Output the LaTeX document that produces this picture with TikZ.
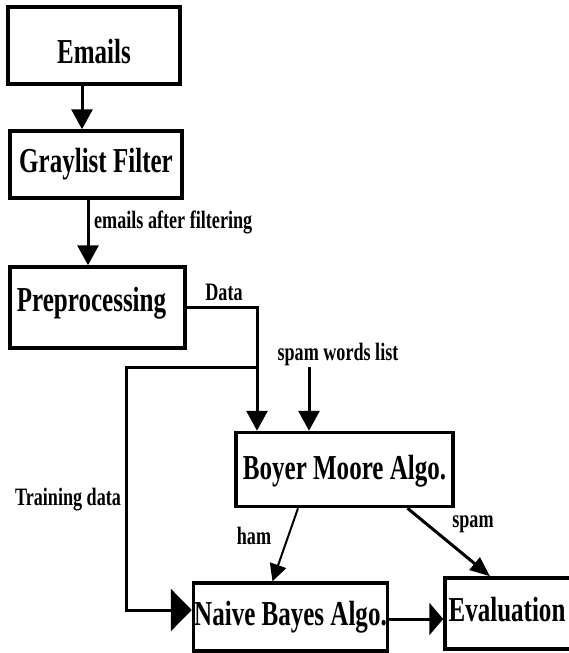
\documentclass[tikz,border=0pt]{standalone}
\usepackage{fontspec}
\setmainfont{Liberation Serif}
\newfontfamily\boxfont{Liberation Serif}[FakeStretch=0.715]
\newfontfamily\lblfont{Liberation Serif}[FakeStretch=0.725]
\usetikzlibrary{arrows.meta,calc}
\newcommand{\shiftink}[2]{\raisebox{#1}[\height][\depth]{#2}}
\tikzset{
  boxnode/.style={draw=black, line width=3.5pt, fill=white, inner sep=0pt,
    font=\fontsize{35}{38}\boxfont\bfseries, align=center},
  lbl/.style={inner sep=0pt, font=\fontsize{25}{27}\lblfont\bfseries},
  conn/.style={draw=black, line width=3pt},
  vtip/.style={conn, -{Triangle[length=20pt,width=21pt]}},
  bigtip/.style={conn, -{Triangle[length=21pt,width=42pt]}},
  evtip/.style={conn, -{Triangle[length=14pt,width=32pt]}},
  hamtip/.style={draw=black, line width=2pt, -{Triangle[length=17pt,width=17pt]}},
  spamtip/.style={conn, -{Triangle[length=20pt,width=16pt]}},
}
\begin{document}
\begin{tikzpicture}[x=1pt,y=-1pt]
\useasboundingbox (0,0) rectangle (569,653);
% boxes
\node[boxnode, minimum width=172pt, minimum height=77pt] (emails) at (94,45.5) {\shiftink{-6pt}{Emails}};
\node[boxnode, minimum width=172pt, minimum height=67pt] (gray) at (96,164.5) {Graylist Filter};
\node[boxnode, minimum width=175pt, minimum height=81pt] (prep) at (97.5,307.5) {\shiftink{4pt}{Preprocessing}\hspace*{12pt}};
\node[boxnode, minimum width=217pt, minimum height=74pt] (boyer) at (344.5,469.5) {\shiftink{-2pt}{Boyer Moore Algo.}};
\node[boxnode, minimum width=194pt, minimum height=68pt] (naive) at (290.5,617) {Naive Bayes Algo.};
\node[boxnode, minimum width=132pt, minimum height=71pt] (eval) at (511,613.5) {\hspace*{-8pt}\shiftink{4pt}{Evaluation}};
% coordinates
\coordinate (j) at (257,367);
\coordinate (tc) at (126,367);
\coordinate (sw) at (309,367);
% connectors
\draw[vtip] ([xshift=-12pt]emails.south) -- ([xshift=-12pt]emails.south |- gray.north);
\draw[vtip] ([xshift=-8pt]gray.south) -- ([xshift=-8pt]gray.south |- prep.north);
\draw[vtip] (prep.east) -| (j) -- (j |- boyer.north);
\draw[bigtip] (j) -- (tc) |- ([yshift=7pt]naive.west);
\draw[vtip] (sw) -- (sw |- boyer.north);
\draw[hamtip] ([xshift=-46.5pt]boyer.south) -- ([xshift=-18pt]naive.north);
\draw[spamtip] ([xshift=63pt]boyer.south) -- ([xshift=-21pt]eval.north);
\draw[evtip] ([yshift=-2pt]naive.east) -- ([yshift=-2pt]naive.east -| eval.west);
% labels
\node[lbl, anchor=west] (lfilt) at (94,222) {emails after filtering};
\node[lbl] (ldata) at (224,292) {Data};
\node[lbl] (lspw) at (338,354) {spam words list};
\node[lbl] (ltrain) at (68,500) {Training data};
\node[lbl] (lham) at (254,536) {ham};
\node[lbl] (lspam) at (473,524) {spam};
\end{tikzpicture}
\end{document}
